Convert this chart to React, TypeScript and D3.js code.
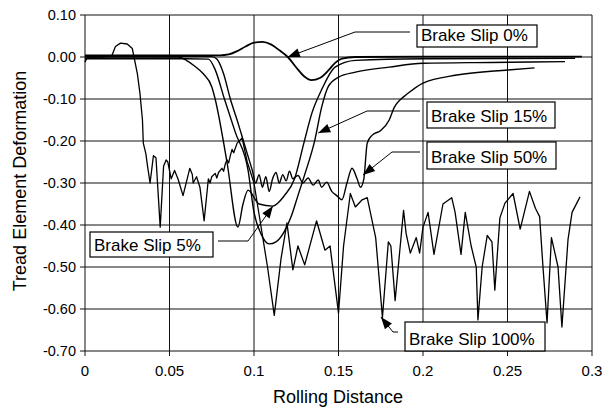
import React from "react";
import * as d3 from "d3";

const W = 603;
const H = 412;

const xTicks = [0, 0.05, 0.1, 0.15, 0.2, 0.25, 0.3];
const xTickLabels = ["0", "0.05", "0.1", "0.15", "0.2", "0.25", "0.3"];
const yTicks = [0.1, 0, -0.1, -0.2, -0.3, -0.4, -0.5, -0.6, -0.7];
const yTickLabels = ["0.10", "0.00", "-0.10", "-0.20", "-0.30", "-0.40", "-0.50", "-0.60", "-0.70"];

type P = [number, number];

const slip0: P[] = [
  [0, 0.004], [0.05, 0.004], [0.08, 0.004], [0.085, 0.006], [0.09, 0.014], [0.095, 0.025],
  [0.1, 0.034], [0.105, 0.036], [0.11, 0.03], [0.115, 0.016], [0.12, 0.0], [0.125, -0.025],
  [0.13, -0.047], [0.134, -0.055], [0.139, -0.05], [0.144, -0.032], [0.148, -0.014],
  [0.152, -0.004], [0.16, 0.0], [0.2, 0.001], [0.25, 0.001], [0.294, 0.001],
];

const slip5: P[] = [
  [0, -0.012], [0.002, 0.0], [0.05, 0.0], [0.055, 0.0], [0.06, -0.008], [0.065, -0.022],
  [0.07, -0.04], [0.075, -0.071], [0.077, -0.1], [0.084, -0.25], [0.0905, -0.405],
  [0.0935, -0.35], [0.0965, -0.317], [0.103, -0.35], [0.111, -0.355], [0.118, -0.33],
  [0.124, -0.29], [0.1295, -0.205], [0.1343, -0.133], [0.14, -0.078], [0.148, -0.024],
  [0.16, -0.008], [0.2, -0.004], [0.29, -0.003],
];

const slip15: P[] = [
  [0, -0.004], [0.06, -0.004], [0.073, -0.005], [0.077, -0.03], [0.0825, -0.1],
  [0.089, -0.18], [0.0965, -0.27], [0.1, -0.37], [0.104, -0.42], [0.109, -0.445],
  [0.113, -0.44], [0.118, -0.415], [0.122, -0.38], [0.126, -0.33], [0.13, -0.28], [0.136, -0.198],
  [0.14, -0.12], [0.144, -0.07], [0.15, -0.048], [0.16, -0.036], [0.18, -0.024],
  [0.2, -0.015], [0.24, -0.013], [0.284, -0.011],
];

const slip50: P[] = [
  [0, 0.002], [0.075, 0.001], [0.078, -0.005], [0.082, -0.04], [0.086, -0.1], [0.09, -0.15],
  [0.093, -0.19], [0.096, -0.23], [0.099, -0.27], [0.101, -0.3], [0.103, -0.28], [0.105, -0.31],
  [0.107, -0.285], [0.109, -0.32], [0.111, -0.29], [0.113, -0.275], [0.115, -0.3],
  [0.117, -0.28], [0.119, -0.295], [0.121, -0.272], [0.123, -0.29], [0.126, -0.282],
  [0.129, -0.3], [0.132, -0.288], [0.135, -0.305], [0.138, -0.293], [0.14, -0.31],
  [0.143, -0.298], [0.146, -0.32], [0.149, -0.33], [0.152, -0.34], [0.155, -0.3],
  [0.158, -0.265], [0.161, -0.29], [0.163, -0.31], [0.165, -0.29], [0.167, -0.205],
  [0.17, -0.186], [0.175, -0.175], [0.18, -0.15], [0.183, -0.12], [0.187, -0.1],
  [0.19, -0.09], [0.2, -0.062], [0.22, -0.043], [0.25, -0.031], [0.266, -0.026],
];

const slip100: P[] = [
  [0, 0.0], [0.01, 0.0], [0.016, 0.004], [0.018, 0.025], [0.021, 0.033], [0.025, 0.031],
  [0.028, 0.02], [0.029, 0.0], [0.031, -0.04], [0.0325, -0.086], [0.034, -0.15],
  [0.0345, -0.205], [0.036, -0.23], [0.037, -0.26], [0.0385, -0.3], [0.0405, -0.235],
  [0.042, -0.24], [0.0445, -0.405], [0.0465, -0.26], [0.048, -0.245], [0.049, -0.25],
  [0.051, -0.29], [0.053, -0.27], [0.055, -0.29], [0.058, -0.33], [0.062, -0.265],
  [0.0635, -0.28], [0.064, -0.3], [0.066, -0.285], [0.068, -0.31], [0.0705, -0.39],
  [0.073, -0.29], [0.074, -0.3], [0.075, -0.285], [0.077, -0.277], [0.078, -0.288],
  [0.079, -0.275], [0.081, -0.265], [0.082, -0.272], [0.083, -0.255], [0.084, -0.245],
  [0.085, -0.252], [0.086, -0.235], [0.087, -0.22], [0.088, -0.228], [0.09, -0.205],
  [0.093, -0.193], [0.096, -0.25], [0.1, -0.3], [0.104, -0.4], [0.108, -0.5], [0.112, -0.615],
  [0.116, -0.48], [0.1195, -0.395], [0.123, -0.507], [0.126, -0.45], [0.13, -0.495],
  [0.137, -0.39], [0.142, -0.46], [0.145, -0.45], [0.15, -0.61], [0.153, -0.45],
  [0.157, -0.325], [0.16, -0.357], [0.164, -0.34], [0.167, -0.335], [0.172, -0.43],
  [0.176, -0.62], [0.1795, -0.44], [0.181, -0.45], [0.1835, -0.58], [0.1885, -0.365],
  [0.19, -0.42], [0.1925, -0.467], [0.196, -0.43], [0.198, -0.467], [0.2, -0.405],
  [0.203, -0.37], [0.2065, -0.47], [0.2118, -0.35], [0.217, -0.335], [0.219, -0.37],
  [0.2225, -0.47], [0.225, -0.37], [0.2285, -0.45], [0.2315, -0.5], [0.2325, -0.626],
  [0.235, -0.5], [0.238, -0.425], [0.2408, -0.44], [0.2425, -0.555], [0.2455, -0.383],
  [0.2485, -0.348], [0.2533, -0.325], [0.2575, -0.41], [0.263, -0.32], [0.2665, -0.36],
  [0.269, -0.38], [0.271, -0.5], [0.2734, -0.633], [0.276, -0.43], [0.2799, -0.5],
  [0.2822, -0.643], [0.2858, -0.435], [0.2882, -0.37], [0.2929, -0.333],
];

const seriesNames = ["Brake Slip 0%", "Brake Slip 5%", "Brake Slip 15%", "Brake Slip 50%", "Brake Slip 100%"];

// annotation: tip in data coords; elbow/start and box in pixels
const annotations = [
  { label: seriesNames[0], tip: [0.12, 0.0], elbow: [355, 32], start: [410, 32], box: [417, 25, 120, 22] },
  { label: seriesNames[2], tip: [0.138, -0.181], elbow: [367, 111], start: [420, 111], box: [427, 102, 128, 26] },
  { label: seriesNames[3], tip: [0.1645, -0.281], elbow: [392, 152], start: [420, 152], box: [427, 142, 129, 27] },
  { label: seriesNames[1], tip: [0.1112, -0.355], elbow: [248, 241], start: [218, 241], box: [90, 232, 123, 25] },
  { label: seriesNames[4], tip: [0.1751, -0.619], elbow: [393, 332], start: [398, 332], box: [405, 322, 140, 29] },
];

export default function App() {
  const x = d3.scaleLinear().domain([0, 0.3]).range([85, 592]);
  const y = d3.scaleLinear().domain([-0.7, 0.1]).range([351, 15]);
  const smooth = d3.line<P>().x((d) => x(d[0])).y((d) => y(d[1])).curve(d3.curveMonotoneX);
  const jag = d3.line<P>().x((d) => x(d[0])).y((d) => y(d[1])).curve(d3.curveLinear);
  const font = "'Liberation Sans', Arial, sans-serif";

  const arrowHead = (tx: number, ty: number, fx: number, fy: number) => {
    const dx = tx - fx, dy = ty - fy;
    const L = Math.hypot(dx, dy) || 1;
    const ux = dx / L, uy = dy / L;
    const len = 12, hw = 4.5;
    const bx = tx - ux * len, by = ty - uy * len;
    return `${tx},${ty} ${bx - uy * hw},${by + ux * hw} ${bx + uy * hw},${by - ux * hw}`;
  };

  return (
    <svg width={W} height={H} style={{ position: "absolute", left: 0, top: 0, background: "#fff" }} fontFamily={font}>
      <rect x={0} y={0} width={W} height={H} fill="#fff" />
      {yTicks.map((t) => (
        <line key={"gy" + t} x1={x(0) - 5} x2={x(0.3)} y1={y(t)} y2={y(t)} stroke="#111" strokeWidth={1} />
      ))}
      {xTicks.map((t) => (
        <line key={"gx" + t} x1={x(t)} x2={x(t)} y1={y(0.1)} y2={y(-0.7) + 5} stroke="#111" strokeWidth={1} />
      ))}
      {yTicks.map((t, i) => (
        <text key={"ly" + t} x={76} y={y(t)} dy="0.36em" textAnchor="end" fontSize={14.5} fill="#000">
          {yTickLabels[i]}
        </text>
      ))}
      {xTicks.map((t, i) => (
        <text key={"lx" + t} x={x(t)} y={376} textAnchor="middle" fontSize={15} fill="#000">
          {xTickLabels[i]}
        </text>
      ))}
      <text x={338} y={403} textAnchor="middle" fontSize={18} fill="#000">Rolling Distance</text>
      <text transform={`translate(26,181) rotate(-90)`} textAnchor="middle" fontSize={18} fill="#000">
        Tread Element Deformation
      </text>
      <g fill="none" stroke="#000" strokeLinejoin="round">
        <path d={smooth(slip50) || ""} strokeWidth={1.4} />
        <path d={smooth(slip15) || ""} strokeWidth={1.4} />
        <path d={smooth(slip5) || ""} strokeWidth={1.4} />
        <path d={smooth(slip0) || ""} strokeWidth={1.8} />
        <path d={jag(slip100) || ""} strokeWidth={1.3} />
      </g>
      {annotations.map((a) => {
        const tx = x(a.tip[0]);
        const ty = y(a.tip[1]);
        const [bx, by, bw, bh] = a.box;
        return (
          <g key={a.label}>
            <polyline
              points={`${a.start[0]},${a.start[1]} ${a.elbow[0]},${a.elbow[1]} ${tx},${ty}`}
              fill="none"
              stroke="#000"
              strokeWidth={1}
            />
            <polygon points={arrowHead(tx, ty, a.elbow[0], a.elbow[1])} fill="#000" />
            <rect x={bx} y={by} width={bw} height={bh} fill="#fff" stroke="#000" strokeWidth={1.2} />
            <text x={bx + 4} y={by + bh - 6} fontSize={17} fill="#000">
              {a.label}
            </text>
          </g>
        );
      })}
    </svg>
  );
}
